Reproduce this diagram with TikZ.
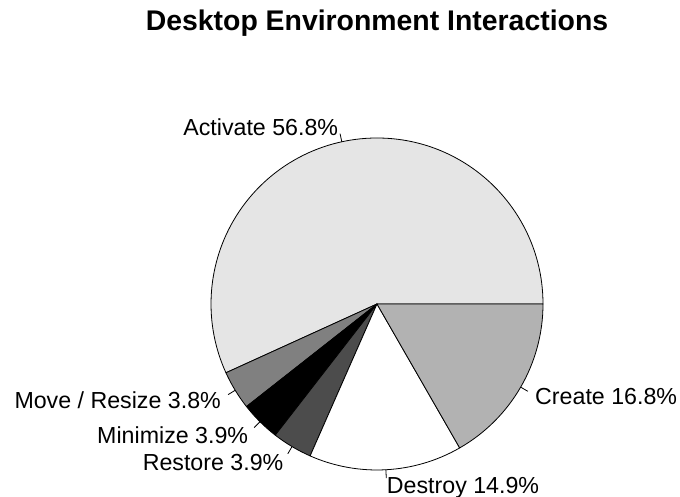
\documentclass[tikz,border=0pt]{standalone}
\usepackage{fontspec}
\setmainfont{Liberation Sans}
\usetikzlibrary{calc}
\begin{document}
\begin{tikzpicture}[x=1pt,y=1pt,
  wedge/.style={draw=black,line width=0.8pt,line join=round},
  tick/.style={draw=black,line width=0.8pt},
  lab/.style={inner sep=0pt,yshift=-1.5pt,font=\fontsize{23.2}{25}\selectfont},
  ttl/.style={inner sep=0pt,font=\fontsize{28.4}{31}\selectfont\bfseries}]
\useasboundingbox (0,0) rectangle (680,497);
\def\R{166}
\coordinate (c) at (377,193);
\node[ttl] (title) at (377,474) {Desktop Environment Interactions};
% wedges
\filldraw[wedge,fill=black!10] (c) -- ++(0:\R) arc[start angle=0,end angle=204.48,radius=\R] -- cycle;
\filldraw[wedge,fill=black!50] (c) -- ++(204.48:\R) arc[start angle=204.48,end angle=218.16,radius=\R] -- cycle;
\filldraw[wedge,fill=black] (c) -- ++(218.16:\R) arc[start angle=218.16,end angle=232.2,radius=\R] -- cycle;
\filldraw[wedge,fill=black!70] (c) -- ++(232.2:\R) arc[start angle=232.2,end angle=246.24,radius=\R] -- cycle;
\filldraw[wedge,fill=white] (c) -- ++(246.24:\R) arc[start angle=246.24,end angle=299.88,radius=\R] -- cycle;
\filldraw[wedge,fill=black!30] (c) -- ++(299.88:\R) arc[start angle=299.88,end angle=360,radius=\R] -- cycle;
% tick coordinates and labels
\foreach \n/\a/\anc/\t in {act/102.24/east/{Activate 56.8\%},
                           mov/211.32/east/{Move / Resize 3.8\%},
                           min/225.18/east/{Minimize 3.9\%},
                           res/239.22/east/{Restore 3.9\%},
                           des/273.06/west/{Destroy 14.9\%},
                           cre/329.94/west/{Create 16.8\%}}{
  \coordinate (\n0) at ($(c)+(\a:\R)$);
  \coordinate (\n1) at ($(c)+(\a:1.05*\R)$);
  \node[lab,anchor=\anc] (\n) at ($(c)+(\a:1.1*\R)$) {\t};
  \draw[tick] (\n0) -- (\n1);
}
\end{tikzpicture}
\end{document}
